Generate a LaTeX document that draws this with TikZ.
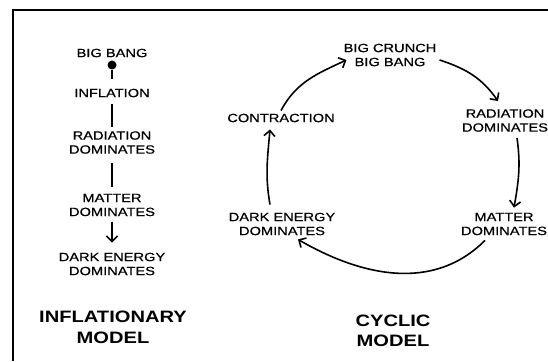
\documentclass[tikz,border=0pt]{standalone}
\usepackage{fontspec}
\setmainfont{Liberation Sans}[FakeStretch=1.22]
\newfontfamily\lblfont{Liberation Sans}[FakeStretch=1.22, FakeBold=0.6]
\usetikzlibrary{arrows.meta}
\begin{document}
\begin{tikzpicture}[x=1pt,y=1pt,
    lbl/.style={align=center, inner sep=3pt, font=\lblfont\fontsize{12}{14}\selectfont},
    ttl/.style={align=center, inner sep=3pt, font=\fontsize{16.5}{20.5}\selectfont\bfseries},
    link/.style={line width=1.6pt},
    cyc/.style={line width=1.6pt, -{Straight Barb[length=5.5pt,width=11pt]}}]
    \useasboundingbox (0,0) rectangle (548,361);
    % frame
    \draw[line width=1.6pt] (13,0) -- (13,351) -- (548,351);
    % inflationary model
    \node[lbl] (bang) at (112,308) {BIG BANG};
    \node[circle, fill, inner sep=0pt, minimum size=9pt] (dot) at (112,296) {};
    \node[lbl] (infl) at (112,268) {INFLATION};
    \node[lbl] (radl) at (112,218.5) {RADIATION\\DOMINATES};
    \node[lbl] (matl) at (112,156) {MATTER\\DOMINATES};
    \node[lbl] (darkl) at (112,97) {DARK ENERGY\\DOMINATES};
    \node[ttl] (infmodel) at (113,33.5) {INFLATIONARY\\MODEL};
    \draw[link, shorten >=7pt] (dot.south) -- (infl.north);
    \draw[link, shorten <=4pt, shorten >=1pt] (infl) -- (radl);
    \draw[link, shorten <=6pt, shorten >=4pt] (radl) -- (matl);
    \draw[cyc, shorten <=3pt, shorten >=7pt] (matl) -- (darkl);
    % cyclic model
    \node[lbl] (crunch) at (390,306) {BIG CRUNCH\\BIG BANG};
    \node[lbl] (crad) at (505,240.5) {RADIATION\\DOMINATES};
    \node[lbl] (cmat) at (504,137) {MATTER\\DOMINATES};
    \node[lbl] (cdark) at (282,137) {DARK ENERGY\\DOMINATES};
    \node[lbl] (contr) at (281,243) {CONTRACTION};
    \node[ttl] (cycmodel) at (393,30) {CYCLIC\\MODEL};
    \draw[cyc] (contr.north) to[out=62, in=205] ([xshift=6pt, yshift=-5pt]crunch.west);
    \draw[cyc] ([yshift=-5pt]crunch.east) to[out=-18, in=125] ([xshift=-7pt, yshift=5pt]crad.north);
    \draw[cyc] ([xshift=12pt, yshift=-3pt]crad.south) to[out=-82, in=80] ([xshift=10pt, yshift=2pt]cmat.north);
    \draw[cyc] ([xshift=-19pt, yshift=-2pt]cmat.south) to[out=-135, in=-30] ([xshift=16pt, yshift=-1pt]cdark.south);
    \draw[cyc] ([xshift=-12pt, yshift=5pt]cdark.north) to[out=100, in=-95] ([xshift=-11pt, yshift=-4pt]contr.south);
\end{tikzpicture}
\end{document}
